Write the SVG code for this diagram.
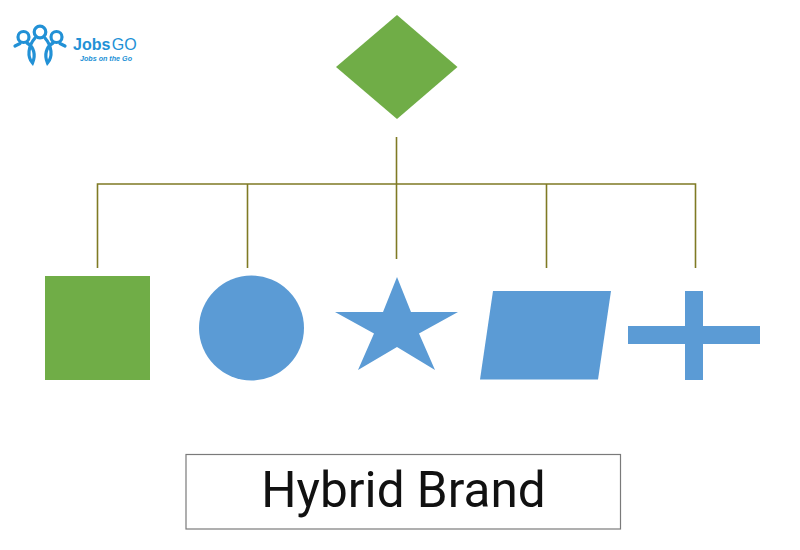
<svg xmlns="http://www.w3.org/2000/svg" width="800" height="550" viewBox="0 0 800 550">
  <style>
    .green { fill: #70ad47; }
    .blue { fill: #5b9bd5; }
    .link { fill: none; stroke: #7f7a24; stroke-width: 1.6; }
    .logo { fill: none; stroke: #2291d6; stroke-width: 3.2; stroke-linecap: round; }
    .logotext { fill: #2291d6; font-family: "Liberation Sans", sans-serif; }
  </style>
  <rect width="800" height="550" fill="#ffffff"/>

  <!-- JobsGO mark: three linked figures -->
  <g id="logo">
    <circle class="logo" cx="23.500" cy="37" r="5.500"/>
    <circle class="logo" cx="40" cy="32" r="5.800"/>
    <circle class="logo" cx="56.500" cy="37" r="5.500"/>
    <path class="logo" stroke-width="2" d="M15 46 L20 43.500"/>
    <path class="logo" stroke-width="2" d="M65 46 L60 43.500"/>
    <path class="logo" stroke-width="2.400" d="M27 43 C34 47 36 55 32.500 63 C27 57 28 46 35 38"/>
    <path class="logo" stroke-width="2.400" d="M53 43 C46 47 44 55 47.500 63 C53 57 52 46 45 38"/>
    <text class="logotext" x="73" y="50" font-size="16"><tspan font-weight="700">Jobs</tspan><tspan dx="1.500">GO</tspan></text>
    <text class="logotext" x="80" y="60.500" font-size="7.500" font-weight="700" font-style="italic" textLength="52" lengthAdjust="spacingAndGlyphs">Jobs on the Go</text>
  </g>

  <g id="connectors">
    <path class="link" d="M396.500 137 V259"/>
    <path class="link" d="M97.500 268 V184 H695.500 V268"/>
    <path class="link" d="M247.500 184 V268"/>
    <path class="link" d="M546.500 184 V268"/>
  </g>

  <g id="diamond"><polygon class="green" points="397,15 457.500,67 397,119 336,67"/></g>
  <g id="square"><rect class="green" x="45" y="276" width="105" height="104"/></g>
  <g id="circle"><circle class="blue" cx="251.500" cy="328" r="52.500"/></g>
  <g id="star"><polygon class="blue" points="397,277 411,312 458,312 419,333.500 435,370 397,347 358,370 374,333.500 335,312 383,312"/></g>
  <g id="parallelogram"><polygon class="blue" points="493,291 611,291 598,379.500 480,379.500"/></g>
  <g id="cross"><polygon class="blue" points="685,291 703,291 703,326 760,326 760,344 703,344 703,380 685,380 685,344 628,344 628,326 685,326"/></g>

  <g id="caption">
    <rect x="186" y="454.500" width="434.500" height="74.500" fill="#ffffff" stroke="#7a7a7a" stroke-width="1.200"/>
    <text x="403.500" y="507" font-family="Roboto, 'Liberation Sans', sans-serif" font-size="49.500" fill="#111111" text-anchor="middle">Hybrid Brand</text>
  </g>
</svg>
